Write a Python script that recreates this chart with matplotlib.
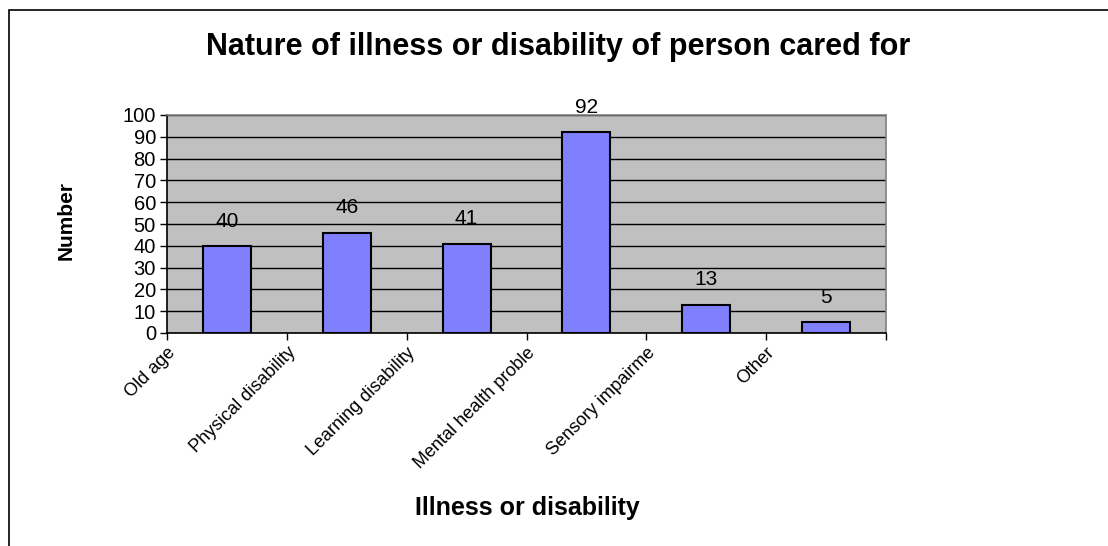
import matplotlib
matplotlib.use('Agg')
import matplotlib.pyplot as plt
from matplotlib.patches import Rectangle

plt.rcParams['font.family'] = ['Liberation Sans', 'DejaVu Sans']

categories = ['Old age', 'Physical disability', 'Learning disability',
              'Mental health proble', 'Sensory impairme', 'Other']
values = [40, 46, 41, 92, 13, 5]
y_ticks = [0, 10, 20, 30, 40, 50, 60, 70, 80, 90, 100]

fig = plt.figure(figsize=(11.08, 5.46), dpi=100)
ax = fig.add_axes([167 / 1108, 1 - 333 / 546, 719 / 1108, 218 / 546])

# outer chart border (runs off the right and bottom of the picture)
fig.add_artist(Rectangle((9 / 1108, -0.1), 1.2, 1 - 10 / 546 + 0.1,
                         transform=fig.transFigure, fill=False,
                         edgecolor='black', linewidth=1.2, clip_on=False))

ax.set_facecolor('#C0C0C0')
x = list(range(len(categories)))
bars = ax.bar(x, values, width=0.4, color='#8080FF', edgecolor='black',
              linewidth=1.5, zorder=3)

for b, v in zip(bars, values):
    ax.annotate(str(v), (b.get_x() + b.get_width() / 2, v),
                xytext=(0, 11), textcoords='offset points',
                ha='center', va='bottom', fontsize=15)

ax.set_xlim(-0.5, len(categories) - 0.5)
ax.set_ylim(0, 100)
ax.set_yticks(y_ticks)
ax.set_yticklabels([str(t) for t in y_ticks], fontsize=14.5)
ax.yaxis.grid(True, color='black', linewidth=1, zorder=1)
ax.set_axisbelow(True)

# ticks sit on category boundaries, labels end at the left boundary
bounds = [i - 0.5 for i in range(len(categories) + 1)]
ax.set_xticks(bounds)
ax.set_xticklabels(categories + [''], rotation=45, ha='right',
                   rotation_mode='anchor', fontsize=13)
ax.tick_params(axis='x', direction='out', length=5, width=1, pad=3)
ax.tick_params(axis='y', direction='out', length=5, width=1, pad=3)

ax.spines['left'].set_color('black')
ax.spines['bottom'].set_color('black')
ax.spines['top'].set_color('#808080')
ax.spines['right'].set_color('#808080')
for s in ax.spines.values():
    s.set_linewidth(1.2)

fig.text(558 / 1108, 1 - 47 / 546, 'Nature of illness or disability of person cared for',
         ha='center', va='center', fontsize=22, fontweight='bold')
fig.text(66 / 1108, 1 - 221 / 546, 'Number', rotation=90,
         ha='center', va='center', fontsize=15, fontweight='bold')
fig.text(527 / 1108, 1 - 508 / 546, 'Illness or disability',
         ha='center', va='center', fontsize=18, fontweight='bold')

fig.savefig('out.png', dpi=100)
